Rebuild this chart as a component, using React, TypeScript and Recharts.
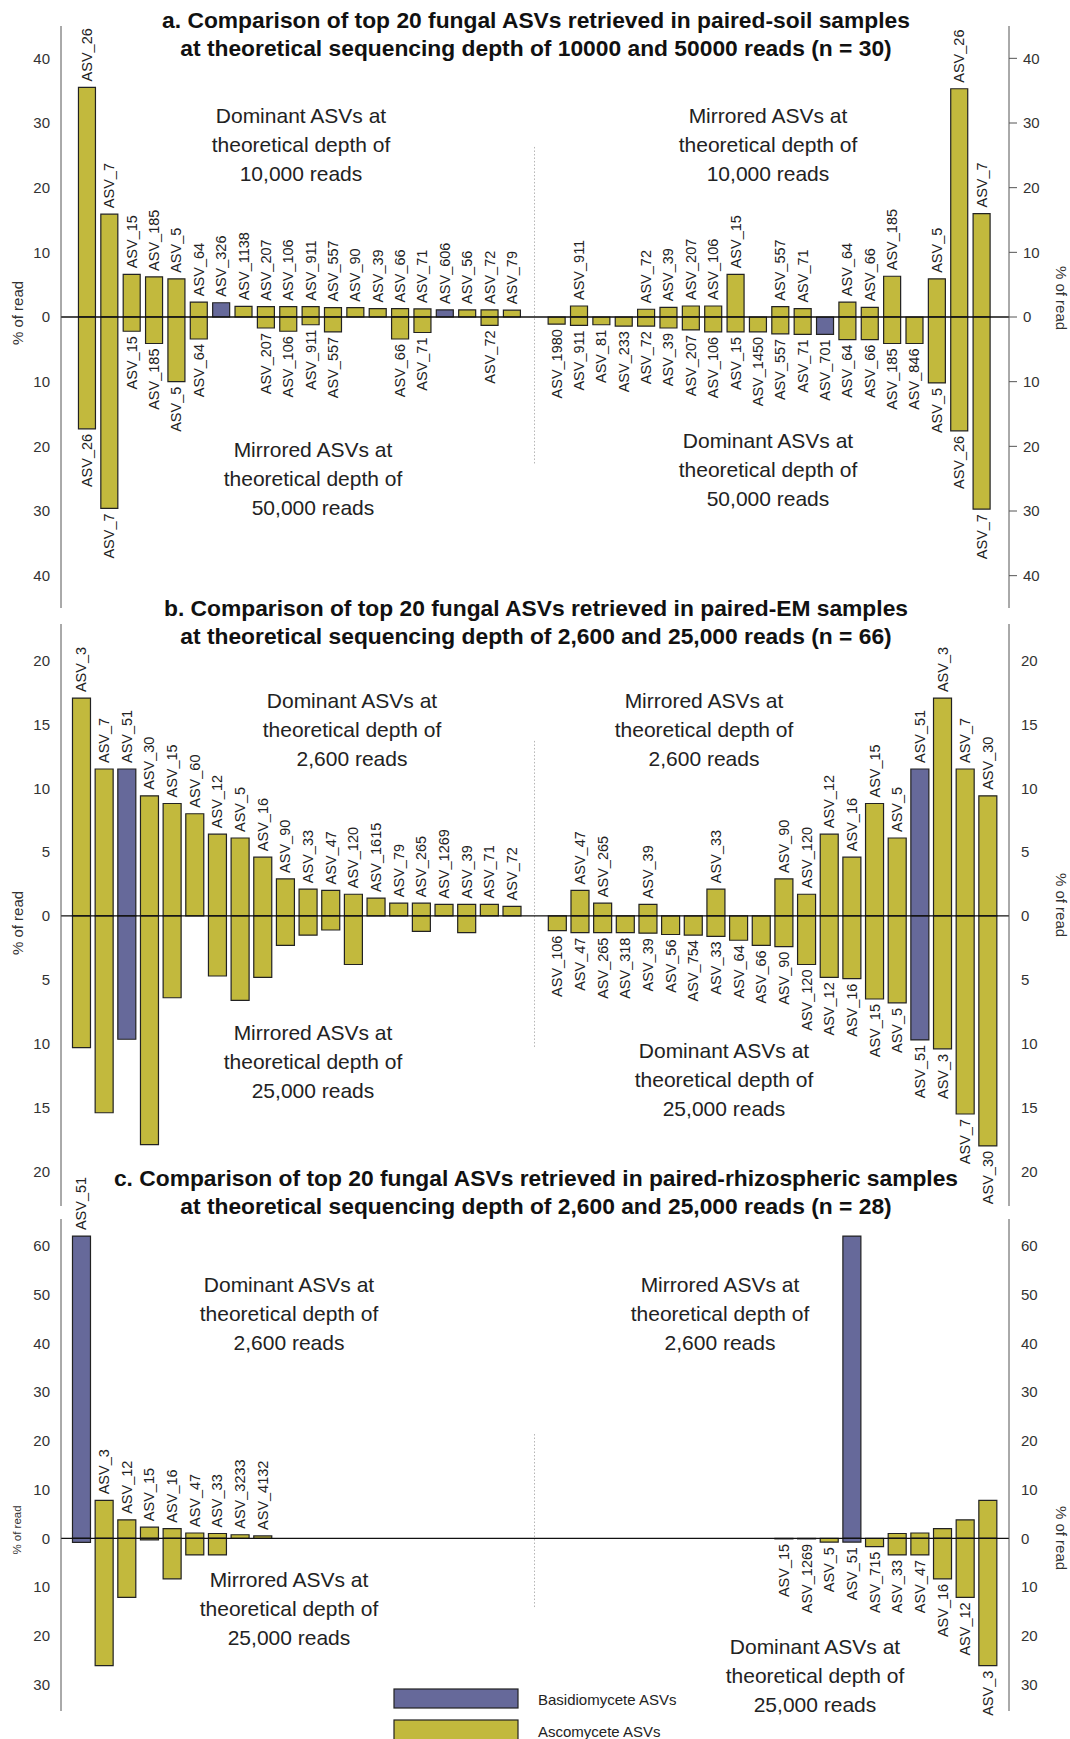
import React from 'react';
import { BarChart, Bar, XAxis, YAxis, ReferenceLine, Cell, LabelList } from 'recharts';

const OLIVE = '#c2b93d';
const BLUE = '#66699a';
const FONT = '"Liberation Sans", Arial, sans-serif';

const basidioAsvs = ['ASV_326', 'ASV_606', 'ASV_701', 'ASV_51'];

// a. paired-soil, 10000 vs 50000 reads
const soilLeftAsvs = ['ASV_26', 'ASV_7', 'ASV_15', 'ASV_185', 'ASV_5', 'ASV_64', 'ASV_326', 'ASV_1138', 'ASV_207', 'ASV_106', 'ASV_911', 'ASV_557', 'ASV_90', 'ASV_39', 'ASV_66', 'ASV_71', 'ASV_606', 'ASV_56', 'ASV_72', 'ASV_79'];
const soilLeftTop = [35.5, 15.9, 6.6, 6.2, 5.9, 2.3, 2.2, 1.65, 1.6, 1.6, 1.6, 1.45, 1.45, 1.3, 1.3, 1.25, 1.1, 1.1, 1.1, 1.05];
const soilLeftBottom = [17.3, 29.6, 2.2, 4.1, 10.0, 3.4, 0, 0, 1.7, 2.2, 1.2, 2.3, 0, 0, 3.4, 2.4, 0, 0, 1.3, 0];
const soilRightAsvs = ['ASV_1980', 'ASV_911', 'ASV_81', 'ASV_233', 'ASV_72', 'ASV_39', 'ASV_207', 'ASV_106', 'ASV_15', 'ASV_1450', 'ASV_557', 'ASV_71', 'ASV_701', 'ASV_64', 'ASV_66', 'ASV_185', 'ASV_846', 'ASV_5', 'ASV_26', 'ASV_7'];
const soilRightTop = [0, 1.7, 0, 0, 1.2, 1.5, 1.7, 1.7, 6.6, 0, 1.6, 1.3, 0, 2.3, 1.5, 6.3, 0, 5.9, 35.3, 16.0];
const soilRightBottom = [1.1, 1.3, 1.2, 1.4, 1.4, 1.7, 2.0, 2.3, 2.3, 2.3, 2.6, 2.7, 2.7, 3.5, 3.5, 4.1, 4.1, 10.2, 17.6, 29.7];

// b. paired-EM, 2,600 vs 25,000 reads
const emLeftAsvs = ['ASV_3', 'ASV_7', 'ASV_51', 'ASV_30', 'ASV_15', 'ASV_60', 'ASV_12', 'ASV_5', 'ASV_16', 'ASV_90', 'ASV_33', 'ASV_47', 'ASV_120', 'ASV_1615', 'ASV_79', 'ASV_265', 'ASV_1269', 'ASV_39', 'ASV_71', 'ASV_72'];
const emLeftTop = [17.05, 11.5, 11.5, 9.4, 8.8, 8.0, 6.4, 6.1, 4.6, 2.9, 2.1, 2.0, 1.7, 1.4, 1.0, 1.0, 0.9, 0.9, 0.9, 0.75];
const emLeftBottom = [10.3, 15.4, 9.65, 17.9, 6.4, 0, 4.7, 6.6, 4.8, 2.3, 1.5, 1.1, 3.8, 0, 0, 1.2, 0, 1.3, 0, 0];
const emRightAsvs = ['ASV_106', 'ASV_47', 'ASV_265', 'ASV_318', 'ASV_39', 'ASV_56', 'ASV_754', 'ASV_33', 'ASV_64', 'ASV_66', 'ASV_90', 'ASV_120', 'ASV_12', 'ASV_16', 'ASV_15', 'ASV_5', 'ASV_51', 'ASV_3', 'ASV_7', 'ASV_30'];
const emRightTop = [0, 2.0, 1.0, 0, 0.9, 0, 0, 2.1, 0, 0, 2.9, 1.7, 6.4, 4.6, 8.8, 6.1, 11.5, 17.05, 11.5, 9.4];
const emRightBottom = [1.15, 1.3, 1.3, 1.3, 1.35, 1.45, 1.5, 1.6, 1.9, 2.3, 2.4, 3.8, 4.8, 4.9, 6.5, 6.8, 9.7, 10.4, 15.5, 18.0];

// c. paired-rhizospheric, 2,600 vs 25,000 reads
const rhizoLeftAsvs = ['ASV_51', 'ASV_3', 'ASV_12', 'ASV_15', 'ASV_16', 'ASV_47', 'ASV_33', 'ASV_3233', 'ASV_4132'];
const rhizoLeftTop = [62.0, 7.8, 3.8, 2.3, 2.0, 1.1, 1.0, 0.75, 0.5];
const rhizoLeftBottom = [0.8, 26.1, 12.1, 0.3, 8.3, 3.4, 3.4, 0, 0];
const rhizoRightAsvs = ['ASV_15', 'ASV_1269', 'ASV_5', 'ASV_51', 'ASV_715', 'ASV_33', 'ASV_47', 'ASV_16', 'ASV_12', 'ASV_3'];
const rhizoRightTop = [0, 0, 0, 62.0, 0, 1.0, 1.1, 2.0, 3.8, 7.8];
const rhizoRightBottom = [0.1, 0.1, 0.75, 0.75, 1.7, 3.4, 3.4, 8.3, 12.1, 26.1];

const SLOTS = 20;

function buildRows(
  lAsvs: string[], lTop: number[], lBot: number[],
  rAsvs: string[], rTop: number[], rBot: number[],
  leftBottomLabels: boolean, rightTopLabels: boolean
) {
  const rows: any[] = [];
  const mk = (key: string, asv: string, up: number, dn: number, showUp: boolean, showDn: boolean) => ({
    key,
    asv,
    up,
    down: -dn,
    upName: showUp && up > 0 ? asv : '',
    downName: showDn && dn > 0 ? asv : '',
    basidio: basidioAsvs.includes(asv),
  });
  for (let i = 0; i < SLOTS; i++) {
    rows.push(mk('L' + i, lAsvs[i] || '', lTop[i] || 0, lBot[i] || 0, true, leftBottomLabels));
  }
  rows.push({ key: 'gap', asv: '', up: 0, down: 0, upName: '', downName: '', basidio: false });
  const off = SLOTS - rAsvs.length;
  for (let i = 0; i < SLOTS; i++) {
    const j = i - off;
    rows.push(mk('R' + i, j >= 0 ? rAsvs[j] : '', j >= 0 ? rTop[j] : 0, j >= 0 ? rBot[j] : 0, rightTopLabels, true));
  }
  return rows;
}

const box = (p: any) => {
  const vb = p.viewBox || {};
  const x = vb.x ?? p.x;
  const y = vb.y ?? p.y;
  const w = vb.width ?? p.width;
  const h = vb.height ?? p.height;
  return { cx: x + w / 2, top: Math.min(y, y + h), bottom: Math.max(y, y + h) };
};

const UpLabel = (props: any) => {
  if (!props.value) return null;
  const { cx, top } = box(props);
  const ty = top - 6;
  return (
    <text x={cx} y={ty} transform={`rotate(-90 ${cx} ${ty})`} textAnchor="start" dominantBaseline="central"
      fontSize={14.5} fill="#222" fontFamily={FONT}>{props.value}</text>
  );
};

const DownLabel = (props: any) => {
  if (!props.value) return null;
  const { cx, bottom } = box(props);
  const ty = bottom + 5;
  return (
    <text x={cx} y={ty} transform={`rotate(-90 ${cx} ${ty})`} textAnchor="end" dominantBaseline="central"
      fontSize={14.5} fill="#222" fontFamily={FONT}>{props.value}</text>
  );
};

const panels = [
  {
    rows: buildRows(soilLeftAsvs, soilLeftTop, soilLeftBottom, soilRightAsvs, soilRightTop, soilRightBottom, true, true),
    top: 0, mTop: 26, plotH: 582, mBottom: 40,
    domain: [-45, 45], ticks: [-40, -30, -20, -10, 0, 10, 20, 30, 40],
    padL: 15, padR: 16, dotted: [26.3, -22.7], rightTicks: true,
  },
  {
    rows: buildRows(emLeftAsvs, emLeftTop, emLeftBottom, emRightAsvs, emRightTop, emRightBottom, false, true),
    top: 580, mTop: 44, plotH: 582, mBottom: 40,
    domain: [-22.7, 22.85], ticks: [-20, -15, -10, -5, 0, 5, 10, 15, 20],
    padL: 9, padR: 10, dotted: [13.7, -10.3], rightTicks: false,
  },
  {
    rows: buildRows(rhizoLeftAsvs, rhizoLeftTop, rhizoLeftBottom, rhizoRightAsvs, rhizoRightTop, rhizoRightBottom, false, false),
    top: 1150, mTop: 69, plotH: 492, mBottom: 28,
    domain: [-35.4, 65.5], ticks: [-30, -20, -10, 0, 10, 20, 30, 40, 50, 60],
    padL: 9, padR: 10, dotted: [21.4, -14.3], rightTicks: false,
  },
];

const titles = [
  { y: 20, text: 'a. Comparison of top 20 fungal ASVs retrieved in paired-soil samples' },
  { y: 48, text: 'at theoretical sequencing depth of 10000 and 50000 reads (n = 30)' },
  { y: 608, text: 'b. Comparison of top 20 fungal ASVs retrieved in paired-EM samples' },
  { y: 636, text: 'at theoretical sequencing depth of 2,600 and 25,000 reads (n = 66)' },
  { y: 1178, text: 'c. Comparison of top 20 fungal ASVs retrieved in paired-rhizospheric samples' },
  { y: 1206, text: 'at theoretical sequencing depth of 2,600 and 25,000 reads (n = 28)' },
];

const notes = [
  { x: 301, y: 115, lines: ['Dominant ASVs at', 'theoretical depth of', '10,000 reads'] },
  { x: 313, y: 449, lines: ['Mirrored ASVs at', 'theoretical depth of', '50,000 reads'] },
  { x: 768, y: 115, lines: ['Mirrored ASVs at', 'theoretical depth of', '10,000 reads'] },
  { x: 768, y: 440, lines: ['Dominant ASVs at', 'theoretical depth of', '50,000 reads'] },
  { x: 352, y: 700, lines: ['Dominant ASVs at', 'theoretical depth of', '2,600 reads'] },
  { x: 313, y: 1032, lines: ['Mirrored ASVs at', 'theoretical depth of', '25,000 reads'] },
  { x: 704, y: 700, lines: ['Mirrored ASVs at', 'theoretical depth of', '2,600 reads'] },
  { x: 724, y: 1050, lines: ['Dominant ASVs at', 'theoretical depth of', '25,000 reads'] },
  { x: 289, y: 1284, lines: ['Dominant ASVs at', 'theoretical depth of', '2,600 reads'] },
  { x: 289, y: 1579, lines: ['Mirrored ASVs at', 'theoretical depth of', '25,000 reads'] },
  { x: 720, y: 1284, lines: ['Mirrored ASVs at', 'theoretical depth of', '2,600 reads'] },
  { x: 815, y: 1646, lines: ['Dominant ASVs at', 'theoretical depth of', '25,000 reads'] },
];

const axisTitles = [
  { x: 17, y: 313, rot: -90, size: 15 },
  { x: 1061, y: 298, rot: 90, size: 15 },
  { x: 17, y: 923, rot: -90, size: 15 },
  { x: 1061, y: 905, rot: 90, size: 15 },
  { x: 17, y: 1530, rot: -90, size: 11.5 },
  { x: 1061, y: 1538, rot: 90, size: 15 },
];

export default function App() {
  return (
    <div style={{ position: 'absolute', left: 0, top: 0, width: 1070, height: 1739, background: '#fff', overflow: 'hidden' }}>
      {panels.map((p, pi) => (
        <div key={pi} style={{ position: 'absolute', left: 0, top: p.top }}>
          <BarChart
            width={1070}
            height={p.mTop + p.plotH + p.mBottom}
            data={p.rows}
            margin={{ top: p.mTop, right: 11, bottom: p.mBottom, left: 21 }}
            stackOffset="sign"
            barCategoryGap="11%"
          >
            <XAxis dataKey="key" hide padding={{ left: p.padL, right: p.padR }} />
            <YAxis
              yAxisId="left"
              type="number"
              domain={p.domain}
              ticks={p.ticks}
              interval={0}
              allowDataOverflow
              width={40}
              axisLine={{ stroke: '#555' }}
              tickLine={false}
              tickSize={0}
              tickMargin={11}
              tickFormatter={(v: number) => String(Math.abs(v))}
              tick={{ fontSize: 15, fill: '#333', fontFamily: FONT }}
            />
            <YAxis
              yAxisId="right"
              orientation="right"
              type="number"
              domain={p.domain}
              ticks={p.ticks}
              interval={0}
              allowDataOverflow
              width={50}
              axisLine={{ stroke: '#555' }}
              tickLine={p.rightTicks ? { stroke: '#555' } : false}
              tickSize={p.rightTicks ? 8 : 0}
              tickMargin={p.rightTicks ? 6 : 12}
              tickFormatter={(v: number) => String(Math.abs(v))}
              tick={{ fontSize: 15, fill: '#333', fontFamily: FONT, textAnchor: 'start' }}
            />
            <ReferenceLine
              yAxisId="left"
              segment={[{ x: 'gap', y: p.dotted[0] }, { x: 'gap', y: p.dotted[1] }]}
              stroke="#b5b5b5"
              strokeDasharray="1.5 2"
            />
            <Bar dataKey="up" yAxisId="left" stackId="s" stroke="#222" strokeWidth={1.2} isAnimationActive={false}>
              {p.rows.map((r: any) => <Cell key={r.key} fill={r.basidio ? BLUE : OLIVE} />)}
              <LabelList dataKey="upName" content={<UpLabel />} />
            </Bar>
            <Bar dataKey="down" yAxisId="left" stackId="s" stroke="#222" strokeWidth={1.2} isAnimationActive={false}>
              {p.rows.map((r: any) => <Cell key={r.key} fill={r.basidio ? BLUE : OLIVE} />)}
              <LabelList dataKey="downName" content={<DownLabel />} />
            </Bar>
            <ReferenceLine yAxisId="left" y={0} stroke="#111" strokeWidth={1.3} />
          </BarChart>
        </div>
      ))}
      <svg width={1070} height={1739} style={{ position: 'absolute', left: 0, top: 0, pointerEvents: 'none' }}>
        {titles.map((t, i) => (
          <text key={i} x={536} y={t.y} textAnchor="middle" dominantBaseline="central" fontSize={22.8}
            fontWeight="bold" fill="#111" fontFamily={FONT}>{t.text}</text>
        ))}
        {notes.map((n, i) => (
          <g key={i}>
            {n.lines.map((l, k) => (
              <text key={k} x={n.x} y={n.y + k * 29} textAnchor="middle" dominantBaseline="central"
                fontSize={21} fill="#222" fontFamily={FONT}>{l}</text>
            ))}
          </g>
        ))}
        {axisTitles.map((a, i) => (
          <text key={i} x={a.x} y={a.y} transform={`rotate(${a.rot} ${a.x} ${a.y})`} textAnchor="middle"
            dominantBaseline="central" fontSize={a.size} fill="#333" fontFamily={FONT}>% of read</text>
        ))}
        <rect x={394} y={1689} width={124} height={19} fill={BLUE} stroke="#222" strokeWidth={1.2} />
        <rect x={394} y={1720} width={124} height={20} fill={OLIVE} stroke="#222" strokeWidth={1.2} />
        <text x={538} y={1699} dominantBaseline="central" fontSize={15} fill="#222" fontFamily={FONT}>Basidiomycete ASVs</text>
        <text x={538} y={1731} dominantBaseline="central" fontSize={15} fill="#222" fontFamily={FONT}>Ascomycete ASVs</text>
      </svg>
    </div>
  );
}
